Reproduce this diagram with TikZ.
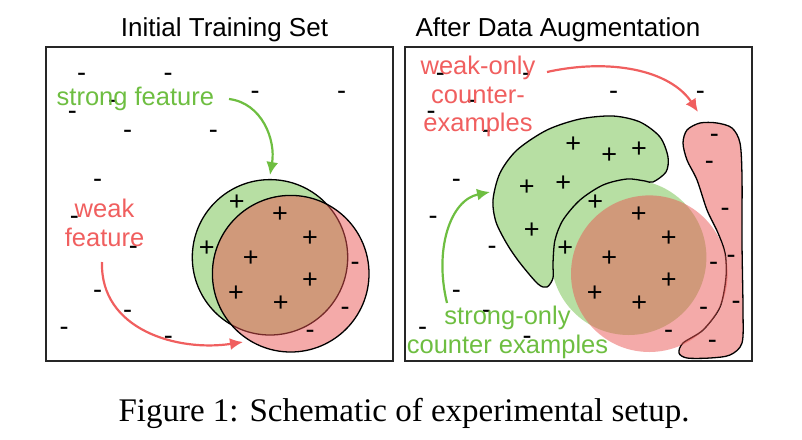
\documentclass[tikz,border=0pt]{standalone}
\usepackage{fontspec}
\setmainfont{Liberation Serif}
\newfontfamily\figfont{Liberation Sans}
\usetikzlibrary{arrows.meta}
\definecolor{fillgreen}{RGB}{183,223,163}
\definecolor{fillred}{RGB}{233,85,83}
\definecolor{textgreen}{RGB}{110,190,65}
\definecolor{textred}{RGB}{240,95,95}

\begin{document}
\begin{tikzpicture}[x=1pt, y=-1pt,
    paneltitle/.style={font=\figfont\fontsize{26}{30}\selectfont, anchor=base, inner sep=0pt},
    featuretext/.style={font=\figfont\fontsize{25.5}{28.5}\selectfont, align=center, anchor=base, inner sep=0pt},
    possign/.style={font=\figfont\fontsize{27}{27}\selectfont, anchor=base, inner sep=0pt, yshift=-9.5pt},
    negsign/.style={font=\figfont\fontsize{27}{27}\selectfont, anchor=base, inner sep=0pt, yshift=-7.5pt},
    curvearrow/.style={line width=2.2pt, -{Latex[length=13pt,width=12pt]}}]
        \useasboundingbox (0,0) rectangle (802,439);
        % frames and titles
        \draw[line width=1.6pt, black!85](46,47) rectangle (393,361);
        \draw[line width=1.6pt, black!85](405,47) rectangle (752,361);
        \node[paneltitle] (titleL) at (224.5,36){Initial Training Set};
        \node[paneltitle] (titleR) at (558,36){After Data Augmentation};
        % left panel: the two circles
        \draw[radius=77.7, fill=fillgreen, line width=1.3pt](270,257.3) circle;
        \draw[radius=78.3, fill=fillred, fill opacity=0.5, line width=1.3pt](290.7,273.7) circle;
        % right panel: circles and the two augmented regions
        \fill[radius=77.7, fillgreen](628.7,257.3) circle;
        \draw[fill=fillgreen, line width=1.3pt] plot[smooth cycle] coordinates {(493,200) (500,173) (517,150) (547,130) (580,119) (613,116) (640,122) (660,137) (668,157) (666,172) (653,182) (645,181) (627,179) (603,185) (580,200) (563,220) (555,240) (553,263) (553,278) (547,287) (538,284) (520,263) (507,244) (496,222)};
        \draw[fill=fillred, fill opacity=0.5, line width=1.3pt] plot[smooth cycle] coordinates {(700,123) (687,130) (683,143) (687,160) (697,180) (707,210) (718,233) (725,253) (726,277) (720,307) (703,330) (683,343) (679,353) (687,358) (710,358) (730,355) (742,343) (743,310) (742,243) (742,177) (740,143) (732,128) (717,123)};
        \fill[radius=78.3, fillred, fill opacity=0.5](649.3,273.7) circle;
        % left panel: negatives
        \node[negsign] (lm1) at (81.7,74.3){-};
        \node[negsign] (lm2) at (168,74.3){-};
        \node[negsign] (lm3) at (255,91.7){-};
        \node[negsign] (lm4) at (341.7,91.7){-};
        \node[negsign] (lm5) at (112.7,100.7){-};
        \node[negsign] (lm6) at (72.3,111.7){-};
        \node[negsign] (lm7) at (127.7,131){-};
        \node[negsign] (lm8) at (213.3,130.7){-};
        \node[negsign] (lm9) at (97.7,180){-};
        \node[negsign] (lm10) at (74.3,216.7){-};
        \node[negsign] (lm11) at (133.3,247.3){-};
        \node[negsign] (lm12) at (97.7,290.7){-};
        \node[negsign] (lm13) at (127.7,310.7){-};
        \node[negsign] (lm14) at (64,328.3){-};
        \node[negsign] (lm15) at (168.3,336.7){-};
        \node[negsign] (lm16) at (355,262.7){-};
        \node[negsign] (lm17) at (345,307.7){-};
        \node[negsign] (lm18) at (310,330.7){-};
        % left panel: positives
        \node[possign] (lp1) at (236.7,201){+};
        \node[possign] (lp2) at (280,213){+};
        \node[possign] (lp3) at (310,237){+};
        \node[possign] (lp4) at (206.7,247){+};
        \node[possign] (lp5) at (250.7,257){+};
        \node[possign] (lp6) at (310,279){+};
        \node[possign] (lp7) at (236,292){+};
        \node[possign] (lp8) at (280.7,302){+};
        % right panel: negatives
        \node[negsign] (rm1) at (440.4,74.3){-};
        \node[negsign] (rm2) at (526.7,74.3){-};
        \node[negsign] (rm3) at (613.7,91.7){-};
        \node[negsign] (rm4) at (700.4,91.7){-};
        \node[negsign] (rm5) at (471.4,100.7){-};
        \node[negsign] (rm6) at (431,111.7){-};
        \node[negsign] (rm7) at (486.4,131){-};
        \node[negsign] (rm8) at (456.4,180){-};
        \node[negsign] (rm9) at (433,216.7){-};
        \node[negsign] (rm10) at (492,247.3){-};
        \node[negsign] (rm11) at (456.4,290.7){-};
        \node[negsign] (rm12) at (486.4,310.7){-};
        \node[negsign] (rm13) at (422.7,328.3){-};
        \node[negsign] (rm14) at (527,336.7){-};
        \node[negsign] (rm15) at (713.7,262.7){-};
        \node[negsign] (rm16) at (703.7,307.7){-};
        \node[negsign] (rm17) at (668.7,330.7){-};
        \node[negsign] (rm18) at (714.3,135){-};
        \node[negsign] (rm19) at (709.3,162.3){-};
        \node[negsign] (rm20) at (725,209){-};
        \node[negsign] (rm21) at (731,255.7){-};
        \node[negsign] (rm22) at (736,301.7){-};
        \node[negsign] (rm23) at (712.3,341.3){-};
        % right panel: positives
        \node[possign] (rp1) at (595.3,201){+};
        \node[possign] (rp2) at (638.7,213){+};
        \node[possign] (rp3) at (668.7,237){+};
        \node[possign] (rp4) at (565.3,247){+};
        \node[possign] (rp5) at (609.3,257){+};
        \node[possign] (rp6) at (668.7,279){+};
        \node[possign] (rp7) at (594.7,292){+};
        \node[possign] (rp8) at (639.3,302){+};
        \node[possign] (rp9) at (573.3,143.3){+};
        \node[possign] (rp10) at (609.3,154.3){+};
        \node[possign] (rp11) at (639,148.3){+};
        \node[possign] (rp12) at (526.7,186){+};
        \node[possign] (rp13) at (563.3,181.7){+};
        \node[possign] (rp14) at (531.7,229){+};
        % feature labels (base = last line)
        \node[featuretext, textgreen] (strongL) at (135.4,105){strong feature};
        \node[featuretext, textred] (weakL) at (104.5,246){weak\\feature};
        \node[featuretext, textred] (weakR) at (478,131.7){weak-only\\counter-\\examples};
        \node[featuretext, textgreen] (strongR) at (507.5,353.3){strong-only\\counter examples};
        % arrow ends
        \coordinate (strongLtail) at (229,99);
        \coordinate (strongLhead) at (270,175);
        \coordinate (weakLtail) at (102,262);
        \coordinate (weakLhead) at (243,342);
        \coordinate (strongRtail) at (447,303);
        \coordinate (strongRhead) at (490,192);
        \coordinate (weakRtail) at (547,72);
        \coordinate (weakRhead) at (698,112);
        \draw[curvearrow, textgreen](strongLtail) .. controls (262,103) and (276,140) .. (strongLhead);
        \draw[curvearrow, textred](weakLtail) .. controls (100,330) and (178,352) .. (weakLhead);
        \draw[curvearrow, textgreen](strongRtail) .. controls (434,250) and (450,200) .. (strongRhead);
        \draw[curvearrow, textred](weakRtail) .. controls (610,58) and (670,70) .. (weakRhead);
        % caption
        \node[font=\fontsize{33}{36}\selectfont, anchor=base, inner sep=0pt] (caption) at (404,421){Figure 1: Schematic of experimental setup.};
    \end{tikzpicture}
\end{document}
